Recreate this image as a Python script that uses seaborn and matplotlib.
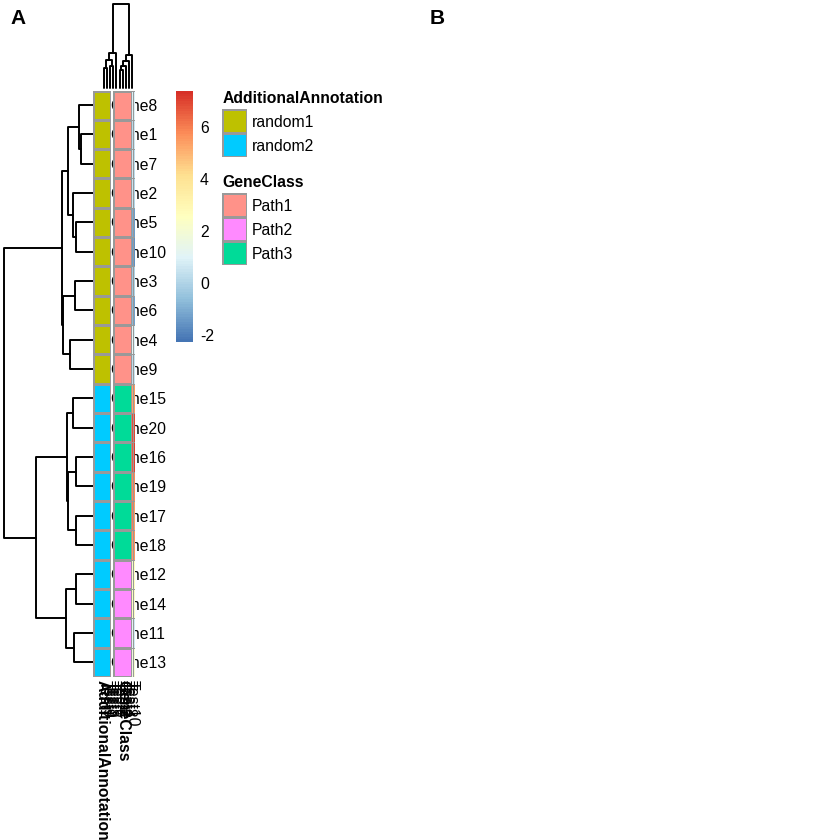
import numpy as np
import pandas as pd
import matplotlib
matplotlib.use('Agg')
import matplotlib.pyplot as plt
import seaborn as sns
from matplotlib.colors import LinearSegmentedColormap, ListedColormap

sns.set_style('white')
plt.rcParams['font.family'] = ['Liberation Sans', 'DejaVu Sans']
plt.rcParams['axes.unicode_minus'] = False
plt.rcParams['text.color'] = 'black'
plt.rcParams['xtick.color'] = 'black'
plt.rcParams['ytick.color'] = 'black'
plt.rcParams['axes.labelcolor'] = 'black'

# data (Gene1..Gene20 x Test1..Test10)
genes = ['Gene1', 'Gene2', 'Gene3', 'Gene4', 'Gene5', 'Gene6', 'Gene7', 'Gene8', 'Gene9', 'Gene10',
         'Gene11', 'Gene12', 'Gene13', 'Gene14', 'Gene15', 'Gene16', 'Gene17', 'Gene18', 'Gene19', 'Gene20']
tests = ['Test1', 'Test2', 'Test3', 'Test4', 'Test5', 'Test6', 'Test7', 'Test8', 'Test9', 'Test10']
values = [
    [3.2, 0.4, 2.6, -0.3, 3.9, 0.9, 3.1, 0.2, 2.4, 0.6],
    [2.8, -0.6, 3.5, 0.3, 2.2, -0.9, 3.7, 0.5, 3.0, 0.1],
    [3.6, 0.7, 2.9, -1.1, 3.3, -2.25, 2.5, -0.4, 3.8, 0.0],
    [2.1, 1.2, 3.4, 0.8, 2.7, 0.2, 4.1, 1.1, 2.9, 0.9],
    [3.0, -1.4, 2.3, -0.7, 3.6, -0.2, 2.8, -1.0, 3.3, -1.3],
    [4.2, -0.5, 3.1, 0.6, 2.5, -1.6, 3.4, -0.8, 2.6, -1.2],
    [2.4, 0.1, 3.8, 1.0, 3.0, 0.5, 2.2, 0.6, 3.5, 0.3],
    [3.3, 1.5, 2.7, 0.4, 4.0, 1.3, 3.2, 0.9, 2.8, 0.9],
    [2.9, 0.8, 3.2, 1.4, 2.1, -0.3, 3.6, 0.3, 3.1, 0.5],
    [3.5, -0.9, 2.0, -1.5, 3.2, 0.3, 2.9, -1.3, 2.4, -1.6],
    [0.3, 2.4, -0.6, 1.7, 0.9, 2.8, -0.2, 1.1, 0.5, 0.7],
    [-0.8, 1.9, 0.4, 2.6, -0.3, 1.5, 0.7, 2.2, -1.0, 2.5],
    [0.6, 2.9, -0.4, 1.3, 0.2, 2.3, -0.9, 1.8, 0.8, 2.0],
    [-0.2, 1.6, 1.0, 2.1, -0.7, 2.7, 0.3, 2.5, -0.5, 2.3],
    [0.4, 6.2, -0.5, 5.6, 0.8, 6.8, -0.1, 5.3, 0.6, 5.5],
    [-0.6, 5.9, 0.2, 7.4, -0.3, 6.1, 0.9, 6.6, -0.8, 7.1],
    [0.7, 6.5, -0.9, 5.8, 0.1, 5.2, -0.4, 6.0, 0.5, 5.4],
    [-0.1, 5.7, 0.6, 6.3, -0.7, 5.9, 0.3, 5.5, -0.2, 5.6],
    [0.9, 6.0, 0.1, 5.4, 0.5, 6.7, -0.6, 5.8, 0.2, 5.8],
    [-0.4, 6.4, -0.2, 6.9, 0.4, 5.5, 0.7, 6.8, -0.5, 7.0],
]
additional_annotation = ['random1', 'random1', 'random1', 'random1', 'random1',
                         'random1', 'random1', 'random1', 'random1', 'random1',
                         'random2', 'random2', 'random2', 'random2', 'random2',
                         'random2', 'random2', 'random2', 'random2', 'random2']
gene_class = ['Path1', 'Path1', 'Path1', 'Path1', 'Path1', 'Path1', 'Path1', 'Path1', 'Path1', 'Path1',
              'Path2', 'Path2', 'Path2', 'Path2', 'Path3', 'Path3', 'Path3', 'Path3', 'Path3', 'Path3']
add_levels = ['random1', 'random2']
add_colors = ['#BEC100', '#00CBFF']
class_levels = ['Path1', 'Path2', 'Path3']
class_colors = ['#FF9289', '#FF8AFF', '#00DB98']

# clustering result (display order + merges: child a, child b, height)
row_order = ['Gene8', 'Gene1', 'Gene7', 'Gene2', 'Gene5', 'Gene10', 'Gene3', 'Gene6', 'Gene4', 'Gene9',
             'Gene15', 'Gene20', 'Gene16', 'Gene19', 'Gene17', 'Gene18', 'Gene12', 'Gene14', 'Gene11', 'Gene13']
col_order = ['Test1', 'Test9', 'Test3', 'Test5', 'Test7', 'Test6', 'Test2', 'Test4', 'Test8', 'Test10']
row_merges = [(1, 2, 12), (0, 20, 14), (4, 5, 17), (3, 22, 20), (21, 23, 25.3),
              (6, 7, 18), (8, 9, 23), (25, 26, 29.7), (24, 27, 30.7),
              (10, 11, 20), (12, 13, 17), (14, 15, 17), (30, 31, 25.3), (29, 32, 26.3),
              (16, 17, 17), (18, 19, 19), (34, 35, 27.3), (33, 36, 57.3), (28, 37, 89)]
col_merges = [(0, 1, 20), (2, 3, 22), (10, 11, 28), (12, 4, 35),
              (5, 6, 18), (14, 7, 22), (15, 8, 27), (16, 9, 33), (13, 17, 84)]

df = pd.DataFrame(values, index=genes, columns=tests).loc[row_order, col_order]
ann = pd.DataFrame({'AdditionalAnnotation': additional_annotation, 'GeneClass': gene_class},
                   index=genes).loc[row_order]

W = H = 840
def box(x0, y0, x1, y1):
    return [x0 / W, 1 - y1 / H, (x1 - x0) / W, (y1 - y0) / H]

def draw_tree(ax, merges, n, vertical):
    pos = [i + 0.5 for i in range(n)]
    hgt = [0.0] * n
    for a, b, h in merges:
        hs = [hgt[a], h, h, hgt[b]]
        ps = [pos[a], pos[a], pos[b], pos[b]]
        if vertical:
            ax.plot(ps, hs, color='black', lw=1.4, clip_on=False)
        else:
            ax.plot(hs, ps, color='black', lw=1.4, clip_on=False)
        pos.append((pos[a] + pos[b]) / 2)
        hgt.append(h)

cmap = LinearSegmentedColormap.from_list(
    'rdylbu', ['#4575B4', '#91BFDB', '#E0F3F8', '#FFFFBF', '#FEE090', '#FC8D59', '#D73027'], N=100)
grid_col = '#999999'
fs = 11.3

fig = plt.figure(figsize=(8.4, 8.4), dpi=100)

# row dendrogram
ax_rt = fig.add_axes(box(4, 90.5, 93, 677))
draw_tree(ax_rt, row_merges, len(row_order), vertical=False)
ax_rt.set_xlim(89, 0)
ax_rt.set_ylim(len(row_order), 0)
ax_rt.axis('off')

# column dendrogram
ax_ct = fig.add_axes(box(102.5, 4, 133.5, 88))
draw_tree(ax_ct, col_merges, len(col_order), vertical=True)
ax_ct.set_xlim(0, len(col_order))
ax_ct.set_ylim(0, 84)
ax_ct.axis('off')

# main matrix + colorbar
ax_mat = fig.add_axes(box(113.3, 90.5, 135.3, 677))
cax = fig.add_axes(box(176, 91, 193.3, 341.7))
sns.heatmap(df, ax=ax_mat, cmap=cmap, vmin=df.values.min(), vmax=df.values.max(),
            linewidths=0.7, linecolor=grid_col, xticklabels=False, yticklabels=True,
            cbar_ax=cax, cbar_kws={'ticks': [-2, 0, 2, 4, 6]})
ax_mat.set_xlabel('')
ax_mat.set_ylabel('')
ax_mat.yaxis.tick_right()
ax_mat.tick_params(axis='y', length=0, pad=-17.9, labelsize=fs, labelcolor='black')
plt.setp(ax_mat.get_yticklabels(), rotation=0, ha='left')
cbar = ax_mat.collections[0].colorbar
cbar.outline.set_visible(False)
cax.tick_params(length=0, pad=4.8, labelsize=fs, labelcolor='black')

# column names
ax_lab = fig.add_axes(box(102.5, 90.5, 133.5, 677))
ax_lab.patch.set_visible(False)
for s in ax_lab.spines.values():
    s.set_visible(False)
ax_lab.set_xlim(0, len(col_order))
ax_lab.set_xticks(np.arange(len(col_order)) + 0.5)
ax_lab.set_xticklabels(col_order, rotation=-90, fontsize=fs)
ax_lab.set_yticks([])
ax_lab.tick_params(axis='x', length=0, pad=2, labelcolor='black')

# row annotations (drawn on top)
ann_boxes = [box(92.5, 90.5, 111.3, 677), box(113.3, 90.5, 131.5, 677)]
ann_specs = [('AdditionalAnnotation', add_levels, add_colors), ('GeneClass', class_levels, class_colors)]
for bx, (name, levels, colors) in zip(ann_boxes, ann_specs):
    ax_a = fig.add_axes(bx, zorder=5)
    codes = ann[[name]].apply(lambda s: s.map({lv: i for i, lv in enumerate(levels)}))
    sns.heatmap(codes, ax=ax_a, cmap=ListedColormap(colors), vmin=-0.5, vmax=len(levels) - 0.5,
                linewidths=1, linecolor=grid_col, cbar=False, yticklabels=False)
    ax_a.set_ylabel('')
    ax_a.set_xticklabels([name], rotation=-90, fontsize=fs, fontweight='bold')
    ax_a.tick_params(axis='x', length=0, pad=2, labelcolor='black')

# annotation legends
leg_boxes = [box(222.3, 109.3, 246.7, 157.3), box(222.3, 193.3, 246.7, 265)]
for bx, (name, levels, colors) in zip(leg_boxes, ann_specs):
    ax_l = fig.add_axes(bx)
    key = pd.DataFrame({name: np.arange(len(levels))}, index=levels)
    sns.heatmap(key, ax=ax_l, cmap=ListedColormap(colors), vmin=-0.5, vmax=len(levels) - 0.5,
                linewidths=1, linecolor=grid_col, cbar=False, xticklabels=False, yticklabels=True)
    ax_l.set_ylabel('')
    ax_l.yaxis.tick_right()
    ax_l.tick_params(axis='y', length=0, pad=3.6, labelsize=fs, labelcolor='black')
    plt.setp(ax_l.get_yticklabels(), rotation=0, ha='left')
    ax_l.set_title(name, loc='left', fontsize=fs, fontweight='bold', pad=4.3, color='black')

# panel tags
fig.text(10 / W, 1 - 18 / H, 'A', fontsize=15, fontweight='bold', va='center', ha='left', color='black')
fig.text(430 / W, 1 - 18 / H, 'B', fontsize=15, fontweight='bold', va='center', ha='left', color='black')

fig.savefig('out.png', dpi=100)
